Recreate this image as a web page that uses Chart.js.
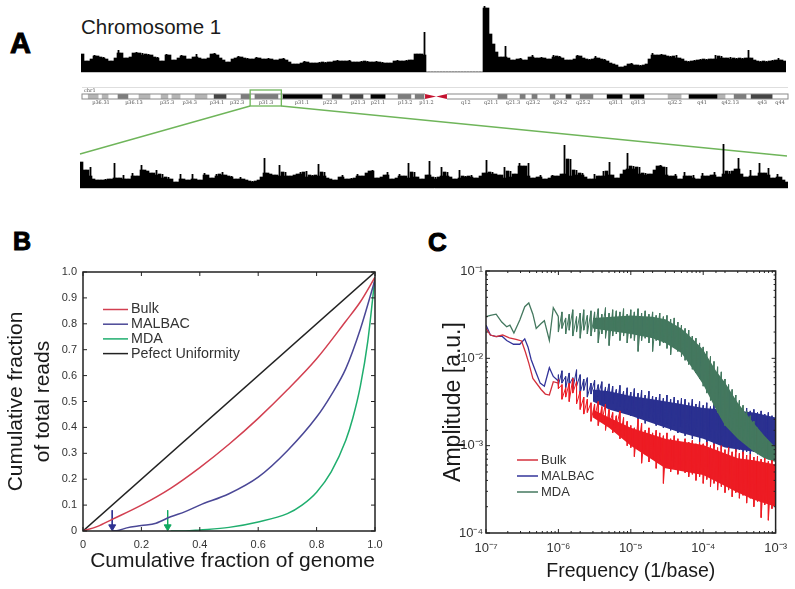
<!DOCTYPE html>
<html>
<head>
<meta charset="utf-8">
<script src="https://cdn.jsdelivr.net/npm/chart.js@4"></script>
<style>
  body { margin: 0; background: #fff; font-family: "Liberation Sans", Arial, sans-serif; color: #1a1a1a; }
  #page { position: relative; width: 795px; height: 589px; overflow: hidden; }
  canvas { position: absolute; filter: blur(0.4px); }
  .letter { position: absolute; font-weight: bold; color: #000; -webkit-text-stroke: 1px #000; line-height: 1; }
  #chromTitle { position: absolute; left: 81px; top: 15px; font-size: 20.5px; line-height: 1.2; }
</style>
</head>
<body>
<div id="page">
  <div class="letter" style="left:10px;top:29px;font-size:29px">A</div>
  <div class="letter" style="left:13px;top:229px;font-size:25px">B</div>
  <div class="letter" style="left:428px;top:229px;font-size:26px">C</div>
  <div id="chromTitle">Chromosome 1</div>
  <canvas id="trackWhole" width="705" height="73" style="left:81px;top:0"></canvas>
  <canvas id="ideogram" width="795" height="76" style="left:0;top:84px"></canvas>
  <canvas id="trackZoom" width="708" height="49" style="left:80px;top:140px"></canvas>
  <canvas id="lorenz" width="400" height="369" style="left:0;top:220px"></canvas>
  <canvas id="spectrum" width="385" height="369" style="left:410px;top:220px"></canvas>
</div>
<script>
// Panel A: read depth along the whole chromosome
const wholeDepth = [
  18,10,11,13,17,16,14,15,13,10,11,14,
  22,19,12,14,15,19,20,17,19,15,
  18,17,14,15,11,9,18,17,12,9,
  14,17,16,13,12,15,18,14,11,13,
  14,18,19,17,14,12,9,10,13,14,
  16,15,13,14,12,13,15,14,13,12,
  14,13,11,12,13,14,12,10,8,7,
  8,9,11,10,9,8,9,10,9,10,
  9,10,11,12,11,10,11,12,10,9,
  10,11,10,11,9,10,11,9,10,9,
  8,9,11,12,11,10,12,11,12,18,18,17,
  40,0,0,0,0,0,0,0,0,0,0,0,0,0,0,0,0,0,0,0,
  66,64,38,28,20,11,15,26,14,10,12,13,14,12,11,15,17,14,13,15,
  14,12,13,17,15,16,14,12,11,12,13,17,16,14,12,13,12,16,14,12,
  13,11,9,8,7,5,4,6,8,9,7,5,7,6,8,13,19,17,15,18,
  17,15,16,14,17,14,13,10,11,9,12,11,13,12,13,11,13,17,12,16,
  14,13,15,13,14,13,14,13,22,14,12,10,11,9,11,10,12,11,14,12,11
];

// Panel A: read depth inside the p31.3 window
const zoomDepth = [
  26,18,12,21,9,8,5,8,9,8,
  9,25,10,9,13,9,8,15,12,10,
  23,18,17,15,13,18,10,14,7,11,
  9,6,5,14,9,8,7,14,9,8,
  7,15,13,8,10,14,12,16,13,11,
  12,9,7,11,9,8,5,7,6,8,
  11,30,15,14,13,10,23,12,16,11,
  12,13,14,16,11,17,10,13,12,24,
  12,16,10,9,8,6,11,13,7,9,
  10,8,14,12,9,15,17,18,10,8,
  11,13,16,9,8,10,14,12,9,25,
  10,16,11,9,8,13,27,9,11,8,
  21,12,16,11,9,8,18,10,12,11,
  13,10,9,12,15,28,11,16,14,13,
  10,21,8,17,11,14,25,22,12,25,
  10,9,11,13,9,8,10,13,12,11,
  14,43,11,29,12,18,13,15,11,9,
  8,14,9,12,17,11,26,13,9,10,
  14,18,35,19,22,14,21,13,15,9,
  14,18,22,23,13,21,10,12,14,9,
  8,16,12,10,13,9,8,15,12,9,
  13,16,10,11,44,14,17,12,19,30,
  14,11,9,18,12,8,25,15,13,20,
  10,9,14,11,8,6
];

// Ideogram bands, in Mb
const bandStart = [2.2,7.1,12.7,20.1,27.9,31.7,39.9,46.6,56.1,61.0,70.9,88.2,94.5,101.9,111.5,117.5,146.7,154.5,158.7,165.1,170.7,175.7,185.2,193.3,206.7,214.1,224.3,230,236];
const bandEnd = [5.7,9.2,16.2,24.0,30.3,34.6,44.1,50.8,59.3,69.1,84.7,91.7,99.1,106.9,116,120.6,149.9,156.3,160.5,166.8,172.5,180.2,190.5,198.2,211.3,224,226.8,234.2,243.4];
const bandStain = [25,25,50,25,25,25,25,75,50,50,100,75,75,100,50,50,50,50,50,50,75,50,100,100,25,100,25,50,75];
const centromere = [121, 124.9, 128.7];
const windowBand = [59.3, 70.3];
const bandLabels = ['p36.31','p36.13','p35.3','p34.3','p34.1','p32.3','p31.3','p31.1','p22.3','p21.3','p21.1','p13.2','p11.2','q12','q21.1','q21.3','q23.2','q24.2','q25.2','q31.1','q31.3','q32.2','q41','q42.13','q43','q44'];
const bandLabelPos = [6.7,18.3,30,38,47.6,54.7,64.9,77.6,87.5,97.4,104.4,114,121.5,135.4,144.3,152,159.1,168.6,176.8,188.3,196.1,209.1,218.7,228.6,239.9,246.2];

// Panel B: coverage uniformity
const perfectX = [0, 1];
const perfectY = [0, 1];
const bulkX = [0,0.05,0.1,0.2,0.3,0.4,0.5,0.6,0.7,0.8,0.9,0.95,1];
const bulkY = [0,0.018,0.045,0.1,0.165,0.245,0.335,0.435,0.545,0.665,0.81,0.885,0.98];
const malbacX = [0.1,0.12,0.15,0.2,0.25,0.3,0.35,0.4,0.5,0.6,0.7,0.8,0.85,0.9,0.95,1];
const malbacY = [0,0.002,0.012,0.021,0.03,0.055,0.075,0.1,0.144,0.208,0.31,0.44,0.525,0.627,0.78,0.97];
const mdaX = [0.3,0.35,0.4,0.5,0.6,0.7,0.75,0.8,0.85,0.9,0.925,0.95,0.975,1];
const mdaY = [0,0,0.004,0.014,0.035,0.067,0.1,0.15,0.228,0.35,0.44,0.56,0.73,0.98];
const arrowFractions = [0.1, 0.29];

// Panel C: low frequency part of each spectrum
const bulkLowFreq = [1e-7,1.15e-7,1.38e-7,1.7e-7,2.1e-7,2.6e-7,3.1e-7,3.5e-7,3.9e-7,4.44e-7,5.77e-7,6.6e-7,7.5e-7,8.5e-7,1e-6];
const bulkLowAmp = [0.022,0.0185,0.0177,0.0185,0.0172,0.0165,0.0158,0.0118,0.0088,0.0059,0.0044,0.0039,0.0038,0.0054,0.0052];
const malbacLowFreq = [1e-7,1.15e-7,1.38e-7,1.65e-7,1.93e-7,2.4e-7,2.93e-7,3.43e-7,3.8e-7,4.2e-7,4.94e-7,5.6e-7,6.4e-7,7.5e-7,8.5e-7,1e-6];
const malbacLowAmp = [0.024,0.0185,0.0177,0.018,0.016,0.0145,0.0145,0.0167,0.0135,0.0097,0.0068,0.0052,0.0048,0.0078,0.0062,0.0055];
const mdaLowFreq = [1e-7,1.15e-7,1.38e-7,1.65e-7,1.93e-7,2.14e-7,2.43e-7,2.93e-7,3.43e-7,3.9e-7,4.44e-7,4.94e-7,5.77e-7,6.4e-7,7.5e-7,8.5e-7,1e-6];
const mdaLowAmp = [0.03,0.031,0.032,0.026,0.023,0.024,0.0195,0.0275,0.039,0.043,0.032,0.022,0.025,0.027,0.016,0.038,0.03];

// Panel C: high frequency part, top and bottom of the noise at each frequency
const bandFreq = [
  1e-6,1.12e-6,1.26e-6,1.41e-6,1.58e-6,1.78e-6,2e-6,2.24e-6,2.51e-6,2.82e-6,3.16e-6,3.55e-6,3.98e-6,4.47e-6,5.01e-6,5.62e-6,6.31e-6,7.08e-6,7.94e-6,8.91e-6,
  1e-5,1.12e-5,1.26e-5,1.41e-5,1.58e-5,1.78e-5,2e-5,2.24e-5,2.51e-5,2.82e-5,3.16e-5,3.55e-5,3.98e-5,4.47e-5,5.01e-5,5.62e-5,6.31e-5,7.08e-5,7.94e-5,8.91e-5,
  1e-4,1.12e-4,1.26e-4,1.41e-4,1.58e-4,1.78e-4,2e-4,2.24e-4,2.51e-4,2.82e-4,3.16e-4,3.55e-4,3.98e-4,4.47e-4,5.01e-4,5.62e-4,6.31e-4,7.08e-4,7.94e-4,8.91e-4,1e-3
];
const mdaUpper = [
  .030,.034,.029,.032,.036,.030,.033,.036,.031,.035,.034,.037,.032,.038,.033,.036,.035,.034,.037,.032,
  .036,.034,.037,.033,.035,.032,.034,.031,.033,.030,.031,.028,.029,.026,.024,.022,.021,.018,.017,.015,
  .0135,.012,.0105,.0092,.0080,.0070,.0058,.0050,.0044,.0038,.0033,.0029,.0025,.0022,.0019,.0016,.0014,.00125,.00112,.0010,.0009
];
const mdaLower = [
  .020,.022,.019,.021,.018,.020,.017,.021,.019,.018,.020,.015,.019,.017,.014,.018,.019,.016,.018,.015,
  .017,.016,.012,.016,.017,.015,.012,.016,.014,.015,.013,.011,.014,.012,.0105,.0095,.0085,.0075,.0068,.0058,
  .0048,.0040,.0033,.0029,.0024,.0021,.0017,.0016,.00145,.0013,.0012,.00112,.00105,.00098,.00088,.00082,.00078,.00074,.00070,.00066,.00063
];
const malbacUpper = [
  .0065,.0072,.0062,.0068,.0060,.0074,.0065,.0058,.0060,.0052,.0056,.0050,.0054,.0047,.0051,.0048,.0044,.0049,.0042,.0046,
  .0041,.0045,.0040,.0043,.0038,.0042,.0037,.0036,.0039,.0035,.0038,.0034,.0036,.0033,.0035,.0034,.0031,.0034,.0030,.0032,
  .0029,.0031,.0028,.0030,.0027,.0029,.0028,.0027,.0029,.0027,.0028,.0026,.0027,.0025,.0026,.0024,.0025,.0023,.0024,.0022,.0022
];
const malbacLower = [
  .0049,.0052,.0046,.0050,.0044,.0048,.0040,.0043,.0036,.0039,.0034,.0037,.0030,.0033,.0028,.0030,.0026,.0028,.0024,.0026,
  .0022,.0024,.0020,.0022,.0018,.0021,.0019,.0017,.0019,.0016,.0018,.0015,.0017,.0014,.0016,.0013,.0015,.0012,.0014,.0011,
  .0013,.0010,.0012,.00095,.0011,.0009,.00105,.00085,.00095,.00085,.0009,.0008,.00085,.0008,.00085,.0008,.0008,.0008,.0008,.0008,.0008
];
const bulkUpper = [
  .0057,.0050,.0046,.0052,.0059,.0054,.0042,.0036,.0034,.0031,.0030,.0032,.0028,.0030,.0026,.0024,.0022,.0025,.0021,.0019,
  .0017,.0016,.0020,.0018,.0015,.0016,.0014,.0015,.0014,.0013,.0014,.0012,.0013,.0012,.0011,.0012,.0011,.00115,.00105,.0011,
  .00105,.0011,.00100,.00105,.00095,.0010,.00090,.00095,.00085,.0009,.00082,.00085,.00078,.00080,.00074,.00076,.00070,.00072,.00066,.00068,.00063
];
const bulkLower = [
  .0045,.0034,.0036,.0032,.0040,.0030,.0026,.0023,.0024,.0019,.0021,.0017,.0019,.0015,.0017,.0014,.0016,.0012,.0013,.0010,
  .00095,.00075,.0009,.00063,.0008,.00065,.00072,.00055,.00068,.00037,.00062,.0005,.00058,.00047,.00052,.00049,.00044,.00047,.00040,.00044,
  .00037,.00041,.00034,.00037,.00031,.00034,.00029,.00031,.00026,.00029,.00025,.00027,.00022,.00025,.00020,.00023,.00015,.00021,.00014,.00019,.00017
];

// Panel C: where the noise is dense enough to read as solid colour
const mdaCoreFreq = [3e-6,1e-5,2e-5,3e-5,5e-5,7e-5,1e-4,1.5e-4,2e-4,3e-4,5e-4,7e-4,1e-3];
const mdaCoreTop = [.029,.031,.030,.028,.022,.017,.0125,.0072,.0053,.0031,.0018,.0013,.00095];
const mdaCoreBottom = [.022,.019,.017,.015,.0115,.0078,.005,.0026,.0017,.0012,.00085,.00072,.00065];
const malbacCoreFreq = [3e-6,5e-6,1e-5,2e-5,5e-5,1e-4,2e-4,5e-4,1e-3];
const malbacCoreTop = [.0044,.0042,.0037,.0034,.0030,.0027,.0026,.0024,.0021];
const malbacCoreBottom = [.0032,.0026,.0022,.0018,.0014,.0012,.00095,.00085,.0008];
const bulkCoreFreq = [3e-6,5e-6,1e-5,3e-5,1e-4,3e-4,5e-4,1e-3];
const bulkCoreTop = [.0026,.0021,.0016,.0012,.00102,.00072,.00068,.00061];
const bulkCoreBottom = [.0021,.0016,.0010,.00055,.00046,.00029,.00024,.0002];

const FONT = '"Liberation Sans", Arial, sans-serif';
const stainColors = { 25: '#b4b4b4', 50: '#7c7c7c', 75: '#444444', 100: '#000000' };
const toPoints = (xs, ys) => xs.map((x, i) => ({ x, y: ys[i] }));
const median3 = (a, b, c) => [a, b, c].sort((p, q) => p - q)[1];

// Depth tracks: narrow bars for the peaks over a solid floor, so spikes stay thin
const trackChart = (id, depth, yMax) => new Chart(document.getElementById(id), {
  type: 'bar',
  data: {
    labels: depth.map((_, i) => i),
    datasets: [
      { data: depth, backgroundColor: '#000', grouped: false, categoryPercentage: 1, barPercentage: 0.6 },
      {
        data: depth.map((v, i) => median3(v, depth[i - 1] ?? v, depth[i + 1] ?? v)),
        backgroundColor: '#000',
        grouped: false,
        categoryPercentage: 1,
        barPercentage: 1,
      },
    ],
  },
  options: {
    responsive: false,
    animation: false,
    plugins: { legend: { display: false }, tooltip: { enabled: false } },
    scales: {
      x: {
        ticks: { display: false },
        grid: { display: false, drawTicks: false },
        border: { color: '#c4c4c4' },
        afterFit: (scale) => { scale.height = 1; },
      },
      y: { display: false, min: 0, max: yMax },
    },
  },
});

trackChart('trackWhole', wholeDepth, 72);
trackChart('trackZoom', zoomDepth, 48);

// Outline, centromere, chr label, selection box and zoom lines around the ideogram
const ideogramDecor = {
  id: 'ideogramDecor',
  afterDatasetsDraw: (chart) => {
    const { ctx, chartArea: area, scales: { x } } = chart;
    ctx.save();
    ctx.strokeStyle = '#dedede';
    ctx.beginPath();
    ctx.moveTo(area.left, 3.5);
    ctx.lineTo(area.right, 3.5);
    ctx.stroke();
    ctx.fillStyle = '#555';
    ctx.font = `5px "DejaVu Serif"`;
    ctx.fillText('chr1', area.left + 2, 8);
    ctx.strokeStyle = '#8a8a8a';
    ctx.strokeRect(area.left, area.top, area.right - area.left, area.bottom - area.top);
    // centromere as two red triangles meeting in the middle
    const [c0, c1, c2] = centromere.map((v) => x.getPixelForValue(v));
    const mid = (area.top + area.bottom) / 2;
    ctx.clearRect(c0, area.top - 1, c2 - c0, area.bottom - area.top + 2);
    ctx.fillStyle = '#c4122f';
    [c0, c2].forEach((edge) => {
      ctx.beginPath();
      ctx.moveTo(edge, area.top);
      ctx.lineTo(c1, mid);
      ctx.lineTo(edge, area.bottom);
      ctx.fill();
    });
    // selection box and connector lines
    const [w0, w1] = windowBand.map((v) => x.getPixelForValue(v));
    ctx.strokeStyle = '#6fb55a';
    ctx.lineWidth = 1.3;
    ctx.strokeRect(w0, 6, w1 - w0, 16);
    ctx.beginPath();
    ctx.moveTo(w0, 22);
    ctx.lineTo(80, 70);
    ctx.moveTo(w1, 22);
    ctx.lineTo(787, 72);
    ctx.stroke();
    ctx.restore();
  },
};

new Chart(document.getElementById('ideogram'), {
  type: 'bar',
  data: {
    labels: ['chr1'],
    datasets: bandStart.map((start, i) => ({
      data: [[start, bandEnd[i]]],
      backgroundColor: stainColors[bandStain[i]],
      grouped: false,
      categoryPercentage: 1,
      barPercentage: 1,
    })),
  },
  options: {
    indexAxis: 'y',
    responsive: false,
    animation: false,
    layout: { padding: { left: 82, right: 7, top: 10 } },
    plugins: { legend: { display: false }, tooltip: { enabled: false } },
    scales: {
      x: {
        type: 'linear',
        min: 0,
        max: 249,
        grid: { display: false, drawTicks: false },
        border: { display: false },
        afterFit: (scale) => { scale.height = 61; },
        afterBuildTicks: (scale) => { scale.ticks = bandLabelPos.map((value) => ({ value })); },
        ticks: {
          autoSkip: false,
          maxRotation: 0,
          padding: 1,
          color: '#555',
          font: { family: '"DejaVu Serif"', size: 5 },
          callback: (value, index) => bandLabels[index],
        },
      },
      y: { display: false },
    },
  },
  plugins: [ideogramDecor],
});

// Box around the plot and MATLAB style inward ticks on all four sides
const axisFrame = {
  id: 'axisFrame',
  afterDatasetsDraw: (chart) => {
    const { ctx, chartArea: { left, right, top, bottom }, scales: { x, y } } = chart;
    const isMajor = (scale, v) => scale.type !== 'logarithmic' || Math.abs(Math.log10(v) - Math.round(Math.log10(v))) < 1e-6;
    ctx.save();
    ctx.strokeStyle = '#222';
    ctx.lineWidth = 1;
    ctx.beginPath();
    x.ticks.forEach((tick) => {
      const px = x.getPixelForValue(tick.value);
      const len = isMajor(x, tick.value) ? 4 : 2;
      ctx.moveTo(px, bottom); ctx.lineTo(px, bottom - len);
      ctx.moveTo(px, top); ctx.lineTo(px, top + len);
    });
    y.ticks.forEach((tick) => {
      const py = y.getPixelForValue(tick.value);
      const len = isMajor(y, tick.value) ? 4 : 2;
      ctx.moveTo(left, py); ctx.lineTo(left + len, py);
      ctx.moveTo(right, py); ctx.lineTo(right - len, py);
    });
    ctx.stroke();
    ctx.lineWidth = 1.5;
    ctx.strokeRect(left, top, right - left, bottom - top);
    ctx.restore();
  },
};

// Legend sits inside the plot, the built in one can't do that
const insideLegend = {
  id: 'insideLegend',
  afterDraw: (chart, args, opts) => {
    const { ctx } = chart;
    ctx.save();
    ctx.font = `${opts.size}px ${FONT}`;
    ctx.textBaseline = 'middle';
    ctx.lineWidth = 1.5;
    chart.data.datasets.filter((d) => d.label).forEach((d, i) => {
      const y = opts.y + i * opts.step;
      ctx.strokeStyle = d.borderColor;
      ctx.beginPath();
      ctx.moveTo(opts.x, y);
      ctx.lineTo(opts.x + opts.length, y);
      ctx.stroke();
      ctx.fillStyle = '#333';
      ctx.fillText(d.label, opts.x + opts.length + 3, y);
    });
    ctx.restore();
  },
};

const curve = (label, xs, ys, color) => ({
  label,
  data: toPoints(xs, ys),
  borderColor: color,
  borderWidth: 1.5,
  pointRadius: 0,
  cubicInterpolationMode: 'monotone',
});

const arrow = (fraction, color) => ({
  data: [{ x: fraction, y: 0.08 }, { x: fraction, y: 0.016 }],
  borderColor: color,
  borderWidth: 1,
  pointRadius: [0, 4],
  pointStyle: 'triangle',
  rotation: 180,
  pointBackgroundColor: color,
  pointBorderColor: color,
});

new Chart(document.getElementById('lorenz'), {
  type: 'line',
  data: {
    datasets: [
      curve('Bulk', bulkX, bulkY, '#d23f50'),
      curve('MALBAC', malbacX, malbacY, '#4a4796'),
      curve('MDA', mdaX, mdaY, '#1fae6e'),
      curve('Pefect Uniformity', perfectX, perfectY, '#222222'),
      arrow(arrowFractions[0], '#2e3192'),
      arrow(arrowFractions[1], '#10a860'),
    ],
  },
  options: {
    responsive: false,
    animation: false,
    layout: { padding: { top: 52, right: 25 } },
    plugins: {
      legend: { display: false },
      tooltip: { enabled: false },
      insideLegend: { x: 103, y: 89.5, step: 14.7, length: 25, size: 14.3 },
    },
    scales: {
      x: {
        type: 'linear',
        min: 0,
        max: 1,
        grid: { display: false, drawTicks: false },
        border: { display: false },
        afterFit: (scale) => { scale.height = 58; },
        ticks: { stepSize: 0.2, padding: 7, color: '#333', font: { family: FONT, size: 11 }, maxRotation: 0 },
        title: {
          display: true,
          text: 'Cumulative fraction of genome',
          align: 'end',
          color: '#1a1a1a',
          font: { family: FONT, size: 21 },
          padding: { top: 0, bottom: 15 },
        },
      },
      y: {
        type: 'linear',
        min: 0,
        max: 1,
        grid: { display: false, drawTicks: false },
        border: { display: false },
        afterFit: (scale) => { scale.width = 83; },
        ticks: { stepSize: 0.1, padding: 6, color: '#333', font: { family: FONT, size: 11 } },
        title: {
          display: true,
          text: ['Cumulative fraction', 'of total reads'],
          color: '#1a1a1a',
          font: { family: FONT, size: 21, lineHeight: 1.28 },
          padding: { top: 3, bottom: 0 },
        },
      },
    },
  },
  plugins: [axisFrame, insideLegend],
});

const superscripts = { '-': '⁻', 1: '¹', 2: '²', 3: '³', 4: '⁴', 5: '⁵', 6: '⁶', 7: '⁷' };
const decadeLabel = (value) => {
  const exp = Math.log10(value);
  if (Math.abs(exp - Math.round(exp)) > 1e-6) return '';
  return '10' + String(Math.round(exp)).split('').map((c) => superscripts[c]).join('');
};

// Walks down and up the noise so the line itself makes the spiky edge
const noisePoints = (upper, lower) => bandFreq.flatMap((x, i) => [{ x, y: upper[i] }, { x, y: lower[i] }]);

// One spectrum: thin line to 1e-6, spiky noise after that, and a solid core inside the noise
const spectrum = (label, low, noise, core, line, fill, order) => [
  { label, data: toPoints(low[0], low[1]), borderColor: line, borderWidth: 1.3, pointRadius: 0, order },
  { data: noisePoints(noise[0], noise[1]), borderColor: fill, borderWidth: 1, pointRadius: 0, order },
  { data: toPoints(core[0], core[1]), borderColor: fill, borderWidth: 0, pointRadius: 0, order },
  { data: toPoints(core[0], core[2]), borderColor: fill, backgroundColor: fill, borderWidth: 0, pointRadius: 0, fill: '-1', order },
];

new Chart(document.getElementById('spectrum'), {
  type: 'line',
  data: {
    datasets: [
      ...spectrum('Bulk', [bulkLowFreq, bulkLowAmp], [bulkUpper, bulkLower], [bulkCoreFreq, bulkCoreTop, bulkCoreBottom], '#d4303c', '#ed1c24', 0),
      ...spectrum('MALBAC', [malbacLowFreq, malbacLowAmp], [malbacUpper, malbacLower], [malbacCoreFreq, malbacCoreTop, malbacCoreBottom], '#33349a', '#2b3190', 2),
      ...spectrum('MDA', [mdaLowFreq, mdaLowAmp], [mdaUpper, mdaLower], [mdaCoreFreq, mdaCoreTop, mdaCoreBottom], '#44785f', '#44785f', 1),
    ],
  },
  options: {
    responsive: false,
    animation: false,
    layout: { padding: { top: 51, right: 15 } },
    plugins: {
      legend: { display: false },
      tooltip: { enabled: false },
      insideLegend: { x: 107, y: 240, step: 16, length: 21, size: 13 },
    },
    scales: {
      x: {
        type: 'logarithmic',
        min: 1e-7,
        max: 1e-3,
        grid: { display: false, drawTicks: false },
        border: { display: false },
        afterFit: (scale) => { scale.height = 56; },
        ticks: {
          autoSkip: false,
          maxRotation: 0,
          padding: 8,
          color: '#333',
          font: { family: FONT, size: 13 },
          callback: decadeLabel,
        },
        title: {
          display: true,
          text: 'Frequency (1/base)',
          color: '#1a1a1a',
          font: { family: FONT, size: 19.5 },
          padding: { top: 0, bottom: 6 },
        },
      },
      y: {
        type: 'logarithmic',
        min: 1e-4,
        max: 1e-1,
        grid: { display: false, drawTicks: false },
        border: { display: false },
        afterFit: (scale) => { scale.width = 76; },
        ticks: {
          autoSkip: false,
          padding: 3,
          color: '#333',
          font: { family: FONT, size: 13 },
          callback: decadeLabel,
        },
        title: {
          display: true,
          text: 'Amplitude [a.u.]',
          color: '#1a1a1a',
          font: { family: FONT, size: 23 },
          padding: { top: 30, bottom: 0 },
        },
      },
    },
  },
  plugins: [axisFrame, insideLegend],
});
</script>
</body>
</html>
